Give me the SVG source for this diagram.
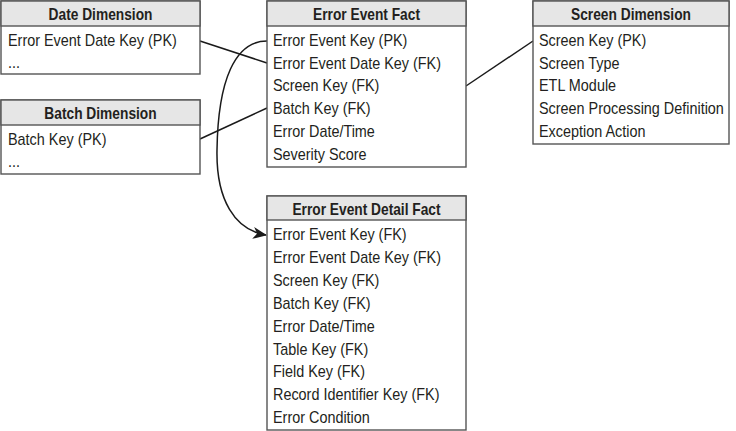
<svg xmlns="http://www.w3.org/2000/svg" width="736" height="431" viewBox="0 0 736 431">
<style>
.box{fill:#fff;stroke:#555;stroke-width:1.4}
.hdr{fill:#e6e6e6;stroke:#555;stroke-width:1.4}
.t{font-family:"Liberation Sans",Arial,sans-serif;font-size:16px;fill:#231f20}
.h{font-family:"Liberation Sans",Arial,sans-serif;font-size:16px;font-weight:bold;fill:#231f20;text-anchor:middle}
.c{fill:none;stroke:#1a1a1a;stroke-width:1.5}
</style>
<defs>
<marker id="arr" markerWidth="14" markerHeight="12" refX="13" refY="6" orient="auto" markerUnits="userSpaceOnUse">
<path d="M0,0 L14,6 L0,12 L4,6 Z" fill="#1a1a1a"/>
</marker>
</defs>
<g id="connectors">
<line class="c" x1="200" y1="41" x2="267" y2="63"/>
<line class="c" x1="200" y1="139" x2="267" y2="108"/>
<line class="c" x1="466" y1="86" x2="533" y2="41"/>
<path class="c" d="M267,41 C235,41 218,80 217,150 C216,200 235,230 266,235" marker-end="url(#arr)"/>
</g>
<g id="date-dimension">
<rect class="box" x="1" y="1" width="199" height="73"/>
<rect class="hdr" x="1" y="1" width="199" height="25"/>
<text class="h" transform="translate(100.5,20) scale(0.86,1)">Date Dimension</text>
<text class="t" transform="translate(8,46) scale(0.9,1)">Error Event Date Key (PK)</text>
<text class="t" transform="translate(8,68) scale(0.9,1)">...</text>
</g>
<g id="batch-dimension">
<rect class="box" x="1" y="100" width="199" height="74"/>
<rect class="hdr" x="1" y="100" width="199" height="25"/>
<text class="h" transform="translate(100.5,119) scale(0.86,1)">Batch Dimension</text>
<text class="t" transform="translate(8,145) scale(0.9,1)">Batch Key (PK)</text>
<text class="t" transform="translate(8,167) scale(0.9,1)">...</text>
</g>
<g id="error-event-fact">
<rect class="box" x="267" y="1" width="199" height="166"/>
<rect class="hdr" x="267" y="1" width="199" height="25"/>
<text class="h" transform="translate(366.5,20) scale(0.86,1)">Error Event Fact</text>
<text class="t" transform="translate(273,46) scale(0.9,1)">Error Event Key (PK)</text>
<text class="t" transform="translate(273,69) scale(0.9,1)">Error Event Date Key (FK)</text>
<text class="t" transform="translate(273,91) scale(0.9,1)">Screen Key (FK)</text>
<text class="t" transform="translate(273,114) scale(0.9,1)">Batch Key (FK)</text>
<text class="t" transform="translate(273,137) scale(0.9,1)">Error Date/Time</text>
<text class="t" transform="translate(273,160) scale(0.9,1)">Severity Score</text>
</g>
<g id="screen-dimension">
<rect class="box" x="533" y="1" width="196" height="143"/>
<rect class="hdr" x="533" y="1" width="196" height="25"/>
<text class="h" transform="translate(631,20) scale(0.86,1)">Screen Dimension</text>
<text class="t" transform="translate(539,46) scale(0.9,1)">Screen Key (PK)</text>
<text class="t" transform="translate(539,69) scale(0.9,1)">Screen Type</text>
<text class="t" transform="translate(539,91) scale(0.9,1)">ETL Module</text>
<text class="t" transform="translate(539,114) scale(0.9,1)">Screen Processing Definition</text>
<text class="t" transform="translate(539,137) scale(0.9,1)">Exception Action</text>
</g>
<g id="error-event-detail-fact">
<rect class="box" x="267" y="196" width="199" height="234"/>
<rect class="hdr" x="267" y="196" width="199" height="24"/>
<text class="h" transform="translate(366.5,215) scale(0.86,1)">Error Event Detail Fact</text>
<text class="t" transform="translate(273,240) scale(0.9,1)">Error Event Key (FK)</text>
<text class="t" transform="translate(273,263) scale(0.9,1)">Error Event Date Key (FK)</text>
<text class="t" transform="translate(273,286) scale(0.9,1)">Screen Key (FK)</text>
<text class="t" transform="translate(273,309) scale(0.9,1)">Batch Key (FK)</text>
<text class="t" transform="translate(273,332) scale(0.9,1)">Error Date/Time</text>
<text class="t" transform="translate(273,355) scale(0.9,1)">Table Key (FK)</text>
<text class="t" transform="translate(273,377) scale(0.9,1)">Field Key (FK)</text>
<text class="t" transform="translate(273,400) scale(0.9,1)">Record Identifier Key (FK)</text>
<text class="t" transform="translate(273,423) scale(0.9,1)">Error Condition</text>
</g>
</svg>
